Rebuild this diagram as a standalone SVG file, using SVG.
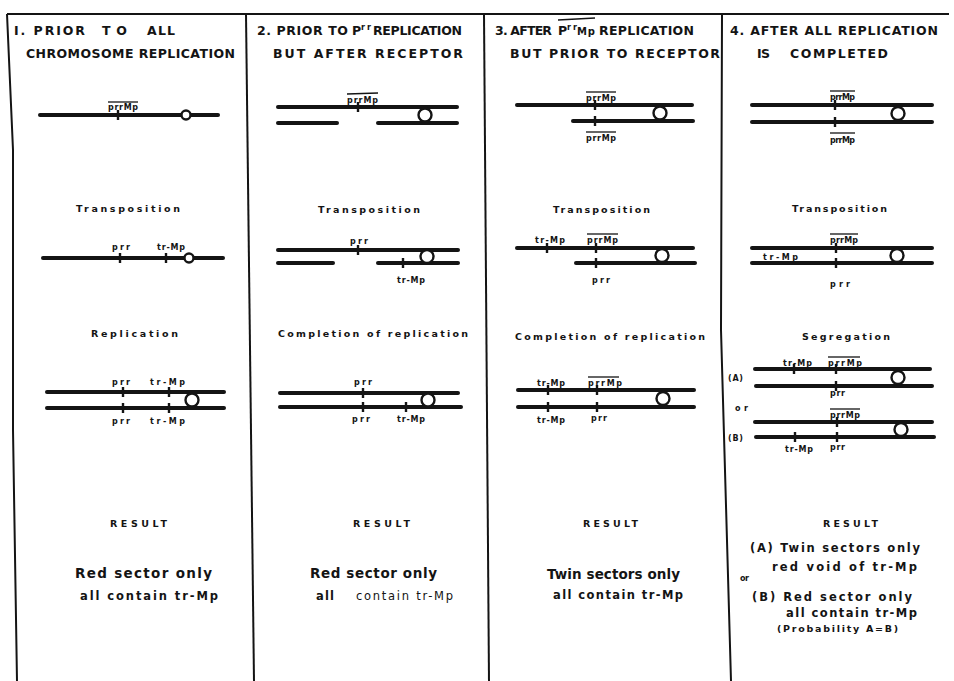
<svg xmlns="http://www.w3.org/2000/svg" width="954" height="681" viewBox="0 0 954 681">
<defs>
<style>
.frame{stroke:#141414;stroke-width:2;fill:none}
.chr{stroke:#141414;stroke-width:4;stroke-linecap:round}
.tick{stroke:#141414;stroke-width:2.4}
.cen{fill:#fff;stroke:#141414;stroke-width:2.4}
.ovl{stroke:#141414;stroke-width:1.3}
text{font-family:"DejaVu Sans","Liberation Sans",sans-serif;font-weight:bold;fill:#141414}
.hd{font-size:12.5px}
.sup{font-size:8px}
.lb{font-size:8px}
.st{font-size:9.5px}
.rs{font-size:9.5px}
.big{font-size:13.5px}
.mid{font-size:11.5px}
.thin{font-weight:normal}
.sm{font-size:9.5px}
</style>
</defs>
<rect width="954" height="681" fill="#fff"/>

<g id="frame">
<line class="frame" x1="7" y1="14" x2="949" y2="14"/>
<polyline class="frame" points="7,14 13,150 13,430 17,681"/>
<line class="frame" x1="246" y1="14" x2="254" y2="681"/>
<line class="frame" x1="484" y1="14" x2="489" y2="681"/>
<polyline class="frame" points="722,14 721,330 731,681"/>
</g>

<g id="headers">
<text class="hd" x="14" y="35" textLength="71" lengthAdjust="spacing">I. PRIOR</text>
<text class="hd" x="102" y="35" textLength="25" lengthAdjust="spacing">TO</text>
<text class="hd" x="147" y="35" textLength="28" lengthAdjust="spacing">ALL</text>
<text class="hd" x="26" y="58" textLength="209" lengthAdjust="spacing">CHROMOSOME REPLICATION</text>

<text class="hd" x="257" y="35" textLength="91" lengthAdjust="spacing">2. PRIOR TO</text>
<text class="hd" x="352" y="35">P</text>
<text class="sup" x="361" y="30" textLength="10" lengthAdjust="spacing">rr</text>
<text class="hd" x="373" y="35" textLength="89" lengthAdjust="spacing">REPLICATION</text>
<text class="hd" x="273" y="58" textLength="190" lengthAdjust="spacing">BUT AFTER RECEPTOR</text>

<text class="hd" x="495" y="35" textLength="57" lengthAdjust="spacing">3. AFTER</text>
<text class="hd" x="558" y="35">P</text>
<text class="sup" x="567" y="30" textLength="10" lengthAdjust="spacing">rr</text>
<text class="hd" x="577" y="35" textLength="18" lengthAdjust="spacing" style="font-size:10px">Mp</text>
<line class="ovl" x1="558" y1="20" x2="595" y2="18"/>
<text class="hd" x="599" y="35" textLength="95" lengthAdjust="spacing">REPLICATION</text>
<text class="hd" x="510" y="58" textLength="210" lengthAdjust="spacing">BUT PRIOR TO RECEPTOR</text>

<text class="hd" x="730" y="35" textLength="208" lengthAdjust="spacing">4. AFTER ALL REPLICATION</text>
<text class="hd" x="757" y="58" textLength="13" lengthAdjust="spacing">IS</text>
<text class="hd" x="790" y="58" textLength="98" lengthAdjust="spacing">COMPLETED</text>
</g>

<!-- Column 1 -->
<g id="c1-initial">
<line class="chr" x1="40" y1="115" x2="218" y2="115"/>
<line class="tick" x1="118" y1="110" x2="118" y2="120"/>
<circle class="cen" cx="186" cy="115" r="4.5"/>
<text class="lb" x="108" y="110" textLength="30" lengthAdjust="spacing">prrMp</text>
<line class="ovl" x1="108" y1="102" x2="138" y2="102"/>
</g>
<text class="st" x="76" y="212" textLength="104" lengthAdjust="spacing">Transposition</text>
<g id="c1-transposed">
<line class="chr" x1="43" y1="258" x2="223" y2="258"/>
<line class="tick" x1="120" y1="253" x2="120" y2="263"/>
<line class="tick" x1="166" y1="253" x2="166" y2="263"/>
<circle class="cen" cx="189" cy="258" r="4.5"/>
<text class="lb" x="112" y="250" textLength="18" lengthAdjust="spacing">prr</text>
<text class="lb" x="157" y="250" textLength="28" lengthAdjust="spacing">tr-Mp</text>
</g>
<text class="st" x="91" y="337" textLength="87" lengthAdjust="spacing">Replication</text>
<g id="c1-replicated">
<line class="chr" x1="47" y1="392" x2="224" y2="392"/>
<line class="chr" x1="47" y1="408" x2="224" y2="408"/>
<line class="tick" x1="123" y1="387" x2="123" y2="397"/>
<line class="tick" x1="169" y1="387" x2="169" y2="397"/>
<line class="tick" x1="123" y1="403" x2="123" y2="413"/>
<line class="tick" x1="169" y1="403" x2="169" y2="413"/>
<circle class="cen" cx="192" cy="400" r="6.5"/>
<text class="lb" x="112" y="385" textLength="18" lengthAdjust="spacing">prr</text>
<text class="lb" x="150" y="385" textLength="35" lengthAdjust="spacing">tr-Mp</text>
<text class="lb" x="112" y="424" textLength="18" lengthAdjust="spacing">prr</text>
<text class="lb" x="150" y="424" textLength="35" lengthAdjust="spacing">tr-Mp</text>
</g>
<g id="c1-result">
<text class="rs" x="110" y="527" textLength="57" lengthAdjust="spacing">RESULT</text>
<text class="big" x="75" y="578" textLength="137" lengthAdjust="spacing">Red sector only</text>
<text class="mid" x="80" y="600" textLength="138" lengthAdjust="spacing">all contain tr-Mp</text>
</g>

<!-- Column 2 -->
<g id="c2-initial">
<line class="chr" x1="278" y1="107" x2="457" y2="107"/>
<line class="chr" x1="278" y1="123" x2="337" y2="123"/>
<line class="chr" x1="378" y1="123" x2="457" y2="123"/>
<line class="tick" x1="358" y1="102" x2="358" y2="112"/>
<circle class="cen" cx="425" cy="115" r="6.5"/>
<text class="lb" x="347" y="103" textLength="31" lengthAdjust="spacing">prrMp</text>
<line class="ovl" x1="347" y1="94" x2="378" y2="93"/>
</g>
<text class="st" x="318" y="213" textLength="102" lengthAdjust="spacing">Transposition</text>
<g id="c2-transposed">
<line class="chr" x1="278" y1="250" x2="458" y2="250"/>
<line class="chr" x1="278" y1="263" x2="333" y2="263"/>
<line class="chr" x1="378" y1="263" x2="458" y2="263"/>
<line class="tick" x1="358" y1="245" x2="358" y2="255"/>
<line class="tick" x1="403" y1="258" x2="403" y2="268"/>
<circle class="cen" cx="427" cy="256.5" r="6.5"/>
<text class="lb" x="350" y="244" textLength="18" lengthAdjust="spacing">prr</text>
<text class="lb" x="397" y="283" textLength="28" lengthAdjust="spacing">tr-Mp</text>
</g>
<text class="st" x="278" y="337" textLength="190" lengthAdjust="spacing">Completion of replication</text>
<g id="c2-replicated">
<line class="chr" x1="280" y1="393" x2="458" y2="393"/>
<line class="chr" x1="280" y1="407" x2="461" y2="407"/>
<line class="tick" x1="363" y1="388" x2="363" y2="398"/>
<line class="tick" x1="363" y1="402" x2="363" y2="412"/>
<line class="tick" x1="406" y1="402" x2="406" y2="412"/>
<circle class="cen" cx="428" cy="400" r="6.5"/>
<text class="lb" x="354" y="385" textLength="18" lengthAdjust="spacing">prr</text>
<text class="lb" x="352" y="422" textLength="18" lengthAdjust="spacing">prr</text>
<text class="lb" x="397" y="422" textLength="28" lengthAdjust="spacing">tr-Mp</text>
</g>
<g id="c2-result">
<text class="rs" x="353" y="527" textLength="57" lengthAdjust="spacing">RESULT</text>
<text class="big" x="310" y="578" textLength="127" lengthAdjust="spacing">Red sector only</text>
<text class="mid" x="316" y="600" textLength="18" lengthAdjust="spacing">all</text>
<text class="mid thin" x="356" y="600" textLength="97" lengthAdjust="spacing">contain tr-Mp</text>
</g>

<!-- Column 3 -->
<g id="c3-initial">
<line class="chr" x1="517" y1="105" x2="692" y2="105"/>
<line class="chr" x1="573" y1="121" x2="693" y2="121"/>
<line class="tick" x1="595" y1="100" x2="595" y2="110"/>
<line class="tick" x1="595" y1="116" x2="595" y2="126"/>
<circle class="cen" cx="660" cy="113" r="6.5"/>
<text class="lb" x="586" y="101" textLength="30" lengthAdjust="spacing">prrMp</text>
<line class="ovl" x1="586" y1="92" x2="616" y2="92"/>
<text class="lb" x="586" y="141" textLength="30" lengthAdjust="spacing">prrMp</text>
<line class="ovl" x1="586" y1="132" x2="616" y2="132"/>
</g>
<text class="st" x="553" y="213" textLength="97" lengthAdjust="spacing">Transposition</text>
<g id="c3-transposed">
<line class="chr" x1="517" y1="248" x2="693" y2="248"/>
<line class="chr" x1="576" y1="263" x2="695" y2="263"/>
<line class="tick" x1="547" y1="243" x2="547" y2="253"/>
<line class="tick" x1="596" y1="243" x2="596" y2="253"/>
<line class="tick" x1="596" y1="258" x2="596" y2="268"/>
<circle class="cen" cx="662" cy="255.5" r="6.5"/>
<text class="lb" x="535" y="243" textLength="30" lengthAdjust="spacing">tr-Mp</text>
<text class="lb" x="587" y="243" textLength="31" lengthAdjust="spacing">prrMp</text>
<line class="ovl" x1="587" y1="234" x2="618" y2="234"/>
<text class="lb" x="592" y="283" textLength="18" lengthAdjust="spacing">prr</text>
</g>
<text class="st" x="515" y="340" textLength="190" lengthAdjust="spacing">Completion of replication</text>
<g id="c3-replicated">
<line class="chr" x1="518" y1="390" x2="694" y2="390"/>
<line class="chr" x1="518" y1="407" x2="694" y2="407"/>
<line class="tick" x1="548" y1="385" x2="548" y2="395"/>
<line class="tick" x1="597" y1="385" x2="597" y2="395"/>
<line class="tick" x1="548" y1="402" x2="548" y2="412"/>
<line class="tick" x1="597" y1="402" x2="597" y2="412"/>
<circle class="cen" cx="663" cy="398.5" r="6.5"/>
<text class="lb" x="537" y="386" textLength="28" lengthAdjust="spacing">tr-Mp</text>
<text class="lb" x="588" y="386" textLength="34" lengthAdjust="spacing">prrMp</text>
<line class="ovl" x1="588" y1="377" x2="619" y2="377"/>
<text class="lb" x="537" y="423" textLength="28" lengthAdjust="spacing">tr-Mp</text>
<text class="lb" x="591" y="421" textLength="16" lengthAdjust="spacing">prr</text>
</g>
<g id="c3-result">
<text class="rs" x="583" y="527" textLength="55" lengthAdjust="spacing">RESULT</text>
<text class="big" x="547" y="579" textLength="133" lengthAdjust="spacing">Twin sectors only</text>
<text class="mid" x="553" y="599" textLength="130" lengthAdjust="spacing">all contain tr-Mp</text>
</g>

<!-- Column 4 -->
<g id="c4-initial">
<line class="chr" x1="752" y1="105" x2="932" y2="105"/>
<line class="chr" x1="752" y1="122" x2="932" y2="122"/>
<line class="tick" x1="835" y1="100" x2="835" y2="110"/>
<line class="tick" x1="835" y1="117" x2="835" y2="127"/>
<circle class="cen" cx="898" cy="113.5" r="6.5"/>
<text class="lb" x="830" y="100" textLength="25" lengthAdjust="spacing">prrMp</text>
<line class="ovl" x1="830" y1="91" x2="855" y2="91"/>
<text class="lb" x="830" y="143" textLength="25" lengthAdjust="spacing">prrMp</text>
<line class="ovl" x1="830" y1="133" x2="855" y2="133"/>
</g>
<text class="st" x="792" y="212" textLength="95" lengthAdjust="spacing">Transposition</text>
<g id="c4-transposed">
<line class="chr" x1="752" y1="248" x2="932" y2="248"/>
<line class="chr" x1="752" y1="263" x2="932" y2="263"/>
<line class="tick" x1="836" y1="243" x2="836" y2="253"/>
<line class="tick" x1="836" y1="258" x2="836" y2="268"/>
<circle class="cen" cx="897" cy="255.5" r="6.5"/>
<text class="lb" x="830" y="243" textLength="28" lengthAdjust="spacing">prrMp</text>
<line class="ovl" x1="830" y1="234" x2="858" y2="234"/>
<text class="lb" x="763" y="259.5" textLength="35" lengthAdjust="spacing">tr-Mp</text>
<text class="lb" x="830" y="287" textLength="20" lengthAdjust="spacing">prr</text>
</g>
<text class="st" x="802" y="340" textLength="88" lengthAdjust="spacing">Segregation</text>
<g id="c4-segA">
<line class="chr" x1="755" y1="369" x2="930" y2="369"/>
<line class="chr" x1="756" y1="386" x2="932" y2="386"/>
<line class="tick" x1="794" y1="364" x2="794" y2="374"/>
<line class="tick" x1="836" y1="364" x2="836" y2="374"/>
<line class="tick" x1="836" y1="381" x2="836" y2="391"/>
<circle class="cen" cx="898" cy="377.5" r="6.5"/>
<text class="lb" x="783" y="366" textLength="29" lengthAdjust="spacing">tr-Mp</text>
<text class="lb" x="828" y="366" textLength="34" lengthAdjust="spacing">prrMp</text>
<line class="ovl" x1="828" y1="357" x2="860" y2="357"/>
<text class="lb" x="830" y="396" textLength="15" lengthAdjust="spacing">prr</text>
<text class="lb" x="728" y="381" textLength="15" lengthAdjust="spacing">(A)</text>
</g>
<text class="lb" x="735" y="411" textLength="13" lengthAdjust="spacing">or</text>
<g id="c4-segB">
<line class="chr" x1="755" y1="422" x2="932" y2="422"/>
<line class="chr" x1="756" y1="437" x2="934" y2="437"/>
<line class="tick" x1="837" y1="417" x2="837" y2="427"/>
<line class="tick" x1="795" y1="432" x2="795" y2="442"/>
<line class="tick" x1="837" y1="432" x2="837" y2="442"/>
<circle class="cen" cx="901" cy="429.5" r="6.5"/>
<text class="lb" x="830" y="418" textLength="30" lengthAdjust="spacing">prrMp</text>
<line class="ovl" x1="830" y1="409" x2="860" y2="409"/>
<text class="lb" x="785" y="452" textLength="28" lengthAdjust="spacing">tr-Mp</text>
<text class="lb" x="830" y="450" textLength="15" lengthAdjust="spacing">prr</text>
<text class="lb" x="728" y="441" textLength="15" lengthAdjust="spacing">(B)</text>
</g>
<g id="c4-result">
<text class="rs" x="823" y="527" textLength="55" lengthAdjust="spacing">RESULT</text>
<text class="mid" x="750" y="552" textLength="170" lengthAdjust="spacing">(A) Twin sectors only</text>
<text class="mid" x="772" y="571" textLength="145" lengthAdjust="spacing">red void of tr-Mp</text>
<text class="lb" x="740" y="581" textLength="9" lengthAdjust="spacing">or</text>
<text class="mid" x="752" y="601" textLength="160" lengthAdjust="spacing">(B) Red sector only</text>
<text class="mid" x="786" y="617" textLength="131" lengthAdjust="spacing">all contain tr-Mp</text>
<text class="sm" x="777" y="632" textLength="121" lengthAdjust="spacing">(Probability A=B)</text>
</g>
</svg>
